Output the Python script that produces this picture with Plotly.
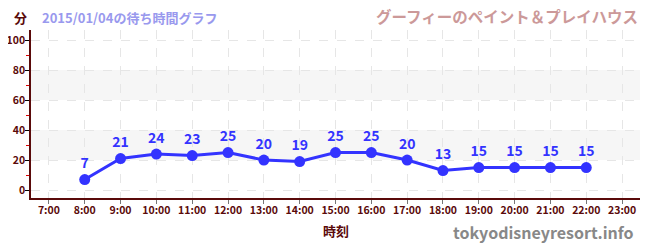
import plotly.graph_objects as go

hours = [8, 9, 10, 11, 12, 13, 14, 15, 16, 17, 18, 19, 20, 21, 22]
waits = [7, 21, 24, 23, 25, 20, 19, 25, 25, 20, 13, 15, 15, 15, 15]
tick_hours = list(range(7, 24))
tick_labels = [f"{h}:00" for h in tick_hours]
y_ticks = [0, 20, 40, 60, 80, 100]
bands = [(20, 40), (60, 80)]

FONT = "Noto Sans CJK JP"
MAROON = "#5a0a0a"

# page body has an 8px offset; figure sized to fill the remaining window
W, H = 642, 242
L, R, T, B = 23, 10, 22, 52
PW, PH = W - L - R, H - T - B


def px(xf):
    return (xf - L) / PW


def py(yf):
    return 1 + (T - yf) / PH


fig = go.Figure()
fig.add_trace(go.Scatter(
    x=hours, y=waits, mode="lines+markers+text",
    line=dict(color="#3333ff", width=3),
    marker=dict(color="#3333ff", size=11),
    text=[str(v) for v in waits], textposition="top center",
    textfont=dict(color="#3333ff", size=14, family=FONT, weight="bold"),
    cliponaxis=False, hoverinfo="skip",
))

shapes = []
for lo, hi in bands:
    shapes.append(dict(type="rect", xref="paper", yref="y", x0=0, x1=1, y0=lo, y1=hi,
                       fillcolor="#f6f6f6", line=dict(width=0), layer="below"))

fig.update_layout(
    width=W, height=H,
    margin=dict(l=L, r=R, t=T, b=B, autoexpand=False),
    paper_bgcolor="white", plot_bgcolor="white",
    showlegend=False, shapes=shapes,
    font=dict(family=FONT),
    xaxis=dict(
        range=[6.5, 23.5], tickmode="array", tickvals=tick_hours, ticktext=tick_labels,
        showgrid=True, gridcolor="#e6e6e6", griddash="dash", gridwidth=1,
        showline=True, linecolor=MAROON, linewidth=1.5,
        ticks="outside", ticklen=4, tickcolor="#777777",
        ticklabelstandoff=-2,
        tickfont=dict(size=10.5, color=MAROON, family=FONT, weight="bold"),
        zeroline=False, fixedrange=True, automargin=False,
    ),
    yaxis=dict(
        range=[-5.3, 106.7], tickmode="array", tickvals=y_ticks,
        showgrid=True, gridcolor="#e6e6e6", griddash="dash", gridwidth=1,
        showline=True, linecolor=MAROON, linewidth=1.5,
        ticks="outside", ticklen=4, tickcolor="#000000",
        ticklabelstandoff=-2,
        minor=dict(dtick=10, ticks="outside", ticklen=3, tickcolor="#dd0000", showgrid=False),
        tickfont=dict(size=10.5, color=MAROON, family=FONT, weight="bold"),
        zeroline=False, fixedrange=True, automargin=False,
    ),
    annotations=[
        dict(text="分", xref="paper", yref="paper", x=px(12), y=py(9), xanchor="center", yanchor="middle",
             showarrow=False, font=dict(size=13, color=MAROON, family=FONT, weight="bold")),
        dict(text="2015/01/04の待ち時間グラフ", xref="paper", yref="paper", x=px(32), y=py(9),
             xanchor="left", yanchor="middle", showarrow=False,
             font=dict(size=13, color="#9999ee", family=FONT, weight="bold")),
        dict(text="グーフィーのペイント＆プレイハウス", xref="paper", yref="paper", x=px(632), y=py(7.5),
             xanchor="right", yanchor="middle", showarrow=False,
             font=dict(size=15.5, color="#cc9999", family=FONT, weight="bold")),
        dict(text="時刻", xref="paper", yref="paper", x=0.5, y=py(222),
             xanchor="center", yanchor="middle", showarrow=False,
             font=dict(size=13, color=MAROON, family=FONT, weight="bold")),
        dict(text="tokyodisneyresort.info", xref="paper", yref="paper", x=px(628), y=py(224),
             xanchor="right", yanchor="middle", showarrow=False,
             font=dict(size=16, color="#888888", family=FONT, weight="bold")),
    ],
)

fig.write_html("out.html")
